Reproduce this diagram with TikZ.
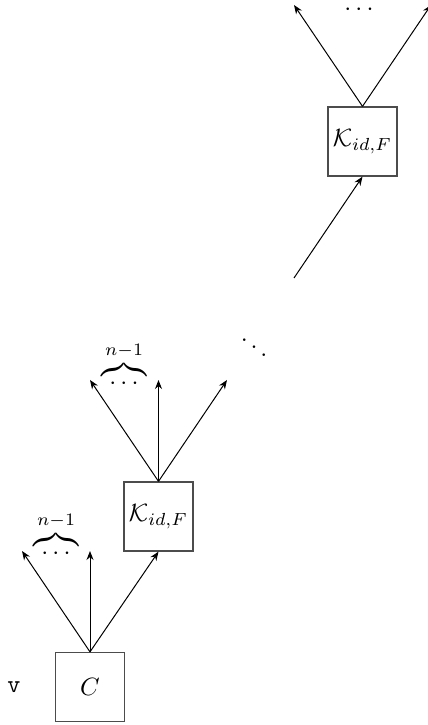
\documentclass[tikz,border=0pt]{standalone}
\usepackage{amsmath}
\usetikzlibrary{arrows.meta}
\begin{document}
\begin{tikzpicture}[x=0.4pt,y=0.4pt,
  boxnode/.style={draw=black!70,line width=0.5pt,minimum size=27.6pt,inner sep=0pt},
  arr/.style={line width=0.4pt,-{Stealth[length=3.6pt,width=2.8pt]}},
  lbl/.style={inner sep=0pt}]
\useasboundingbox (0,0) rectangle (427,725);
% nodes
\node[boxnode] (C) at (90,38) {$C$};
\node[boxnode] (K1) at (158.5,208.5) {$\mathcal{K}_{id,F}$};
\node[boxnode] (K2) at (362.5,583.5) {$\mathcal{K}_{id,F}$};
\node[lbl] (v) at (14,38) {\texttt{v}};
% tips
\coordinate (c1) at (22,174);
\coordinate (c2) at (90,174);
\coordinate (k1a) at (90,345);
\coordinate (k1b) at (158.5,345);
\coordinate (k1c) at (227,345);
\coordinate (in) at (294,447);
\coordinate (k2a) at (294,720);
\coordinate (k2b) at (431,720);
% arrows
\draw[arr] (C.north) -- (c1);
\draw[arr] (C.north) -- (c2);
\draw[arr] (C.north) -- (K1.south);
\draw[arr] (K1.north) -- (k1a);
\draw[arr] (K1.north) -- (k1b);
\draw[arr] (K1.north) -- (k1c);
\draw[arr] (in) -- (K2.south);
\draw[arr] (K2.north) -- (k2a);
\draw[arr] (K2.north) -- (k2b);
% labels
\node[lbl,anchor=base] (b1) at (56,165) {$\overbrace{\cdots}^{n-1}$};
\node[lbl,anchor=base] (b2) at (124,335) {$\overbrace{\cdots}^{n-1}$};
\node[lbl] (dd) at (254,385) {$\ddots$};
\node[lbl,anchor=base] (b3) at (361,709) {$\cdots$};
\end{tikzpicture}
\end{document}
